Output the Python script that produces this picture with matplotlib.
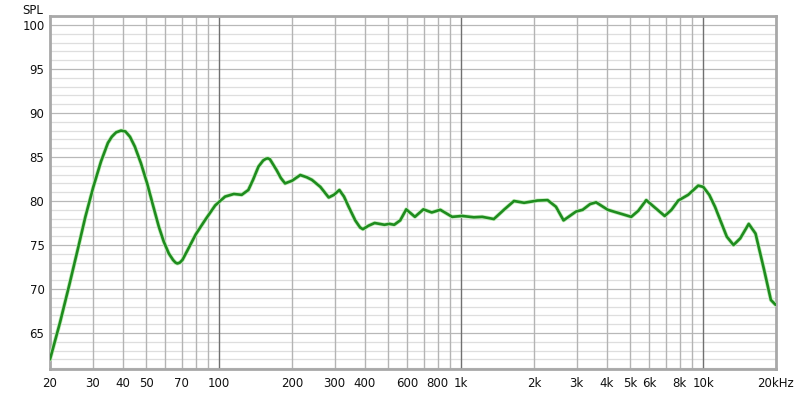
import numpy as np
import matplotlib
matplotlib.use("Agg")
import matplotlib.pyplot as plt
import matplotlib.patheffects as pe

freq = [20, 22, 24, 26.2, 28, 30.2, 32.5, 34.7, 36, 37.5, 39.3, 41, 42.8, 44.8, 47.5,
        50.4, 53.3, 56.3, 59, 61.9, 64.5, 66, 67.2, 68.8, 70.5, 74, 80, 87.3, 96.3,
        105.8, 115, 123.9, 132, 138, 145.3, 152, 156, 158.9, 162, 165, 172.8, 180,
        187.2, 200, 216.4, 230, 241.8, 262, 283.6, 298, 313.9, 328, 342.8, 365, 382,
        392.6, 415, 439, 482, 505, 529, 560, 593, 644, 698, 756, 820, 918, 1010, 1128,
        1222, 1365, 1502, 1653, 1820, 2069, 2276, 2464, 2649, 2982, 3178, 3411, 3610,
        4036, 5044, 5400, 5818, 6350, 6936, 7400, 7889, 8670, 9542, 10007, 10600,
        11190, 12520, 13350, 14230, 15430, 16460, 17850, 19050, 19930, 20000]
spl = [62.0, 66.2, 70.4, 74.8, 78.2, 81.6, 84.5, 86.6, 87.3, 87.8, 88.0, 87.9, 87.3,
       86.2, 84.3, 82.0, 79.5, 77.1, 75.4, 74.05, 73.3, 73.0, 72.9, 73.0, 73.3, 74.4,
       76.2, 77.8, 79.5, 80.5, 80.8, 80.7, 81.25, 82.4, 83.9, 84.6, 84.8, 84.85, 84.75,
       84.4, 83.5, 82.6, 82.0, 82.3, 82.95, 82.7, 82.4, 81.6, 80.4, 80.7, 81.25, 80.5,
       79.35, 77.8, 77.0, 76.8, 77.2, 77.5, 77.3, 77.4, 77.3, 77.8, 79.05, 78.2, 79.05,
       78.7, 79.0, 78.2, 78.3, 78.15, 78.2, 77.95, 79.0, 80.0, 79.8, 80.05, 80.1, 79.35,
       77.8, 78.8, 79.0, 79.65, 79.85, 79.0, 78.2, 78.9, 80.1, 79.2, 78.3, 79.0, 80.05,
       80.7, 81.75, 81.6, 80.7, 79.35, 75.95, 75.0, 75.75, 77.4, 76.3, 72.2, 68.75,
       68.2, 68.2]

xticks = [20, 30, 40, 50, 70, 100, 200, 300, 400, 600, 800, 1000, 2000, 3000, 4000,
          5000, 6000, 8000, 10000, 20000]
xticklabels = ["20", "30", "40", "50", "70", "100", "200", "300", "400", "600", "800",
               "1k", "2k", "3k", "4k", "5k", "6k", "8k", "10k", "20kHz"]
yticks = [65, 70, 75, 80, 85, 90, 95, 100]

fig = plt.figure(figsize=(8, 3.93), dpi=100)
ax = fig.add_axes([50/800, 1-369/393, 726/800, 353/393])
ax.set_xscale("log")
ax.set_xlim(20, 20000)
ax.set_ylim(100 - 344/8.8, 100 + 9/8.8)

# grid
for v in range(61, 102):
    col = "#b8b8b8" if v % 5 == 0 else "#dedede"
    ax.axhline(v, color=col, lw=0.9, zorder=1)
vlines = [d * m for d in (10, 100, 1000, 10000) for m in range(1, 10)]
for f in vlines:
    if 20 < f < 20000:
        dark = f in (100, 1000, 10000)
        ax.axvline(f, color="#707070" if dark else "#b4b4b4", lw=1.0, zorder=1)

ax.plot(freq, spl, color="#1e8c1e", lw=1.9, zorder=3, solid_joinstyle="round",
        solid_capstyle="round",
        path_effects=[pe.Stroke(linewidth=3.0, foreground="#c4ecbc"), pe.Normal()])

ax.set_xticks(xticks)
ax.set_xticklabels(xticklabels)
ax.xaxis.set_minor_locator(matplotlib.ticker.NullLocator())
ax.set_yticks(yticks)
ax.set_yticklabels([str(v) for v in yticks])
ax.tick_params(axis="both", length=0, labelsize=8.5, colors="#111111")
ax.tick_params(axis="x", pad=6)
ax.tick_params(axis="y", pad=4)
for s in ax.spines.values():
    s.set_color("#a8a8a8")
    s.set_linewidth(2.0)
fig.text(22/800, 1-10/393, "SPL", fontsize=8.5, va="center", ha="left", color="#111111")
fig.savefig("out.png", dpi=100)
